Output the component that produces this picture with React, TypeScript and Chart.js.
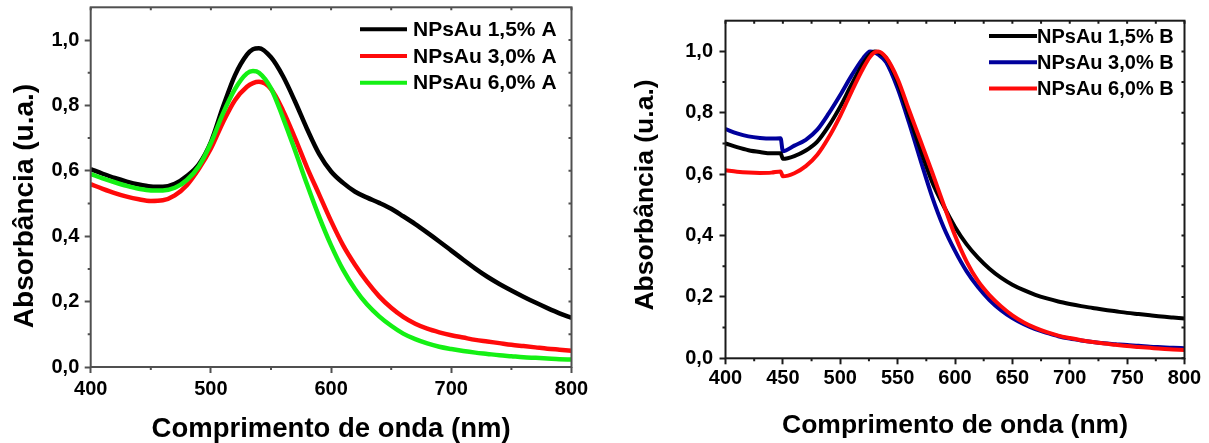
import React, { useEffect, useRef } from 'react';
import { Chart, registerables } from 'chart.js';

Chart.register(...registerables);

// ---------- data: panel A ----------
const wavelengthsA = [400, 410, 420, 430, 440, 450, 460, 470, 480, 490, 500, 510, 520, 530, 535, 540, 550, 560, 570, 580, 590, 600, 610, 620, 630, 640, 650, 660, 670, 680, 690, 700, 710, 720, 730, 740, 750, 760, 770, 780, 790, 800];
const absA15 = [0.605, 0.591, 0.578, 0.567, 0.558, 0.552, 0.551, 0.560, 0.584, 0.620, 0.688, 0.795, 0.892, 0.955, 0.972, 0.975, 0.947, 0.889, 0.812, 0.728, 0.652, 0.598, 0.563, 0.536, 0.518, 0.502, 0.484, 0.461, 0.437, 0.411, 0.384, 0.356, 0.328, 0.301, 0.276, 0.254, 0.234, 0.215, 0.197, 0.180, 0.164, 0.150];
const absA30 = [0.559, 0.545, 0.532, 0.521, 0.513, 0.508, 0.510, 0.525, 0.556, 0.606, 0.668, 0.748, 0.816, 0.857, 0.868, 0.872, 0.850, 0.784, 0.700, 0.610, 0.528, 0.446, 0.372, 0.312, 0.260, 0.216, 0.181, 0.153, 0.132, 0.117, 0.106, 0.097, 0.090, 0.083, 0.078, 0.073, 0.068, 0.064, 0.060, 0.056, 0.053, 0.050];
const absA60 = [0.590, 0.577, 0.565, 0.554, 0.545, 0.540, 0.540, 0.548, 0.572, 0.614, 0.685, 0.775, 0.850, 0.898, 0.905, 0.900, 0.852, 0.762, 0.662, 0.558, 0.460, 0.372, 0.297, 0.238, 0.191, 0.155, 0.126, 0.102, 0.085, 0.072, 0.062, 0.055, 0.049, 0.044, 0.040, 0.036, 0.033, 0.030, 0.028, 0.026, 0.024, 0.023];
const labelsA = ['NPsAu 1,5% A', 'NPsAu 3,0% A', 'NPsAu 6,0% A'];
const colorsA = ['#000000', '#ff0a0a', '#14f014'];

// ---------- data: panel B ----------
const wavelengthsB = [400, 410, 420, 430, 440, 448, 450, 460, 470, 480, 490, 500, 510, 520, 526, 530, 533, 540, 550, 560, 570, 580, 590, 600, 610, 620, 630, 640, 650, 660, 670, 680, 690, 700, 710, 720, 730, 740, 750, 760, 770, 780, 790, 800];
const absB15 = [0.700, 0.688, 0.678, 0.672, 0.668, 0.668, 0.650, 0.659, 0.677, 0.706, 0.757, 0.820, 0.893, 0.960, 0.990, 1.000, 0.997, 0.978, 0.900, 0.790, 0.680, 0.575, 0.497, 0.428, 0.372, 0.328, 0.292, 0.263, 0.240, 0.222, 0.207, 0.195, 0.185, 0.177, 0.170, 0.164, 0.158, 0.153, 0.148, 0.144, 0.140, 0.136, 0.133, 0.130];
const absB30 = [0.747, 0.733, 0.723, 0.718, 0.716, 0.717, 0.675, 0.693, 0.712, 0.745, 0.798, 0.858, 0.922, 0.978, 1.000, 0.997, 0.990, 0.965, 0.880, 0.767, 0.645, 0.527, 0.428, 0.350, 0.284, 0.232, 0.190, 0.157, 0.131, 0.111, 0.095, 0.083, 0.072, 0.064, 0.058, 0.053, 0.049, 0.046, 0.043, 0.041, 0.038, 0.036, 0.034, 0.033];
const absB60 = [0.613, 0.608, 0.605, 0.604, 0.605, 0.609, 0.593, 0.603, 0.626, 0.663, 0.720, 0.790, 0.870, 0.945, 0.982, 0.997, 1.000, 0.980, 0.910, 0.808, 0.708, 0.607, 0.502, 0.400, 0.316, 0.252, 0.206, 0.170, 0.140, 0.117, 0.099, 0.085, 0.074, 0.066, 0.059, 0.053, 0.048, 0.044, 0.040, 0.037, 0.034, 0.031, 0.029, 0.027];
const labelsB = ['NPsAu 1,5% B', 'NPsAu 3,0% B', 'NPsAu 6,0% B'];
const colorsB = ['#000000', '#00009c', '#ff0a0a'];

// ---------- ticks & titles ----------
const xTicksA = [400, 500, 600, 700, 800];
const xMinorA = [450, 550, 650, 750];
const xTicksB = [400, 450, 500, 550, 600, 650, 700, 750, 800];
const xMinorB = [425, 475, 525, 575, 625, 675, 725, 775];
const yTicks = [0, 0.2, 0.4, 0.6, 0.8, 1.0];
const yMinor = [0.1, 0.3, 0.5, 0.7, 0.9];
const xTitle = 'Comprimento de onda (nm)';
const yTitle = 'Absorbância (u.a.)';

const FAMILY = '"Liberation Sans", Arial, Helvetica, sans-serif';

type Geo = {
  width: number; height: number; left: number;
  padTop: number; padRight: number; yWidth: number; xHeight: number;
  axisColor: string; lineWidth: number;
  xTicks: number[]; xMinor: number[];
  tickSize: number; xTickPad: number; yTickPad: number;
  xTitleSize: number; xTitlePadBottom: number;
  yTitleSize: number; yTitleX: number; yTitleY: number;
  legend: { x1: number; x2: number; tx: number; y0: number; dy: number; size: number };
};

function decorPlugin(g: Geo) {
  return {
    id: 'decor',
    afterDraw(chart: any) {
      const { ctx, chartArea: a, scales } = chart;
      const x = scales.x;
      const y = scales.y;
      ctx.save();
      ctx.strokeStyle = g.axisColor;
      ctx.lineWidth = 2;
      ctx.strokeRect(a.left, a.top, a.right - a.left, a.bottom - a.top);
      ctx.beginPath();
      for (const v of g.xMinor) {
        const px = x.getPixelForValue(v);
        ctx.moveTo(px, a.bottom);
        ctx.lineTo(px, a.bottom + 3);
      }
      for (const v of yMinor) {
        const py = y.getPixelForValue(v);
        ctx.moveTo(a.left, py);
        ctx.lineTo(a.left - 3, py);
      }
      for (const v of [...g.xTicks, ...g.xMinor]) {
        const px = x.getPixelForValue(v);
        ctx.moveTo(px, a.top);
        ctx.lineTo(px, a.top + 3);
      }
      for (const v of [...yTicks, ...yMinor]) {
        const py = y.getPixelForValue(v);
        ctx.moveTo(a.right, py);
        ctx.lineTo(a.right - 3, py);
      }
      ctx.stroke();

      // y axis title
      ctx.save();
      ctx.fillStyle = '#000';
      ctx.font = `bold ${g.yTitleSize}px ${FAMILY}`;
      ctx.translate(g.yTitleX, g.yTitleY);
      ctx.rotate(-Math.PI / 2);
      ctx.textAlign = 'center';
      ctx.textBaseline = 'alphabetic';
      ctx.fillText(yTitle, 0, 0);
      ctx.restore();

      // legend
      const L = g.legend;
      ctx.font = `bold ${L.size}px ${FAMILY}`;
      ctx.textAlign = 'left';
      ctx.textBaseline = 'middle';
      chart.data.datasets.forEach((ds: any, i: number) => {
        const yy = L.y0 + i * L.dy;
        ctx.strokeStyle = ds.borderColor;
        ctx.lineWidth = 4;
        ctx.beginPath();
        ctx.moveTo(L.x1, yy);
        ctx.lineTo(L.x2, yy);
        ctx.stroke();
        ctx.fillStyle = '#000';
        ctx.fillText(ds.label, L.tx, yy + 1);
      });
      ctx.restore();
    },
  };
}

function makeConfig(g: Geo, wl: number[], series: number[][], labels: string[], colors: string[], orders: number[]) {
  const datasets = series.map((vals, i) => ({
    label: labels[i],
    data: wl.map((w, j) => ({ x: w, y: vals[j] })),
    borderColor: colors[i],
    backgroundColor: colors[i],
    borderWidth: g.lineWidth,
    pointRadius: 0,
    fill: false,
    cubicInterpolationMode: 'monotone',
    order: orders[i],
  }));
  const gridOpts = {
    display: true,
    drawOnChartArea: false,
    drawTicks: true,
    tickLength: 6,
    tickWidth: 2,
    tickColor: g.axisColor,
  };
  return {
    type: 'line',
    data: { datasets },
    options: {
      animation: false,
      responsive: false,
      devicePixelRatio: 1,
      layout: { padding: { top: g.padTop, right: g.padRight, left: 0, bottom: 0 } },
      plugins: { legend: { display: false }, tooltip: { enabled: false } },
      scales: {
        x: {
          type: 'linear',
          min: 400,
          max: 800,
          afterBuildTicks: (s: any) => { s.ticks = g.xTicks.map((v) => ({ value: v })); },
          afterFit: (s: any) => {
            s.height = g.xHeight;
            s.paddingLeft = 0; s.paddingRight = 0; s.paddingTop = 0; s.paddingBottom = 0;
          },
          grid: gridOpts,
          border: { display: false },
          ticks: {
            color: '#000',
            font: { family: FAMILY, size: g.tickSize, weight: 'bold' },
            padding: g.xTickPad,
            maxRotation: 0,
            autoSkip: false,
            callback: (v: any) => String(v),
          },
          title: {
            display: true,
            text: xTitle,
            color: '#000',
            font: { family: FAMILY, size: g.xTitleSize, weight: 'bold', lineHeight: 1 },
            padding: { top: 0, bottom: g.xTitlePadBottom },
          },
        },
        y: {
          type: 'linear',
          min: 0,
          max: 1.1,
          afterBuildTicks: (s: any) => { s.ticks = yTicks.map((v) => ({ value: v })); },
          afterFit: (s: any) => {
            s.width = g.yWidth;
            s.paddingLeft = 0; s.paddingRight = 0; s.paddingTop = 0; s.paddingBottom = 0;
          },
          grid: gridOpts,
          border: { display: false },
          ticks: {
            color: '#000',
            font: { family: FAMILY, size: g.tickSize, weight: 'bold' },
            padding: g.yTickPad,
            autoSkip: false,
            callback: (v: any) => Number(v).toFixed(1).replace('.', ','),
          },
          title: { display: false },
        },
      },
    },
    plugins: [decorPlugin(g)],
  };
}

const geoA: Geo = {
  width: 600, height: 443, left: 0,
  padTop: 7.3, padRight: 28.5, yWidth: 90.7, xHeight: 76,
  axisColor: '#505050', lineWidth: 4.5,
  xTicks: xTicksA, xMinor: xMinorA,
  tickSize: 20, xTickPad: 4, yTickPad: 5.4,
  xTitleSize: 27.5, xTitlePadBottom: 0,
  yTitleSize: 28, yTitleX: 33.3, yTitleY: 206,
  legend: { x1: 360, x2: 407, tx: 413, y0: 29.3, dy: 26.7, size: 21 },
};

const geoB: Geo = {
  width: 609, height: 443, left: 600,
  padTop: 20.7, padRight: 24.5, yWidth: 125.5, xHeight: 84.7,
  axisColor: '#1a1a1a', lineWidth: 4,
  xTicks: xTicksB, xMinor: xMinorB,
  tickSize: 20, xTickPad: 2.5, yTickPad: 6.5,
  xTitleSize: 26.5, xTitlePadBottom: 4,
  yTitleSize: 26.5, yTitleX: 53.3, yTitleY: 195,
  legend: { x1: 389, x2: 437, tx: 437, y0: 36, dy: 26.2, size: 20 },
};

function Panel({ geo, build }: { geo: Geo; build: () => any }) {
  const ref = useRef<HTMLCanvasElement>(null);
  useEffect(() => {
    if (!ref.current) return;
    const chart = new Chart(ref.current, build());
    return () => chart.destroy();
  }, []);
  return (
    <div style={{ position: 'absolute', left: geo.left, top: 0, width: geo.width, height: geo.height }}>
      <canvas ref={ref} width={geo.width} height={geo.height} style={{ width: geo.width, height: geo.height, display: 'block' }} />
    </div>
  );
}

export default function App() {
  return (
    <div style={{ position: 'fixed', left: 0, top: 0, width: 1209, height: 443, background: '#fff', overflow: 'hidden' }}>
      <Panel geo={geoA} build={() => makeConfig(geoA, wavelengthsA, [absA15, absA30, absA60], labelsA, colorsA, [2, 1, 0])} />
      <Panel geo={geoB} build={() => makeConfig(geoB, wavelengthsB, [absB15, absB30, absB60], labelsB, colorsB, [1, 2, 0])} />
    </div>
  );
}
